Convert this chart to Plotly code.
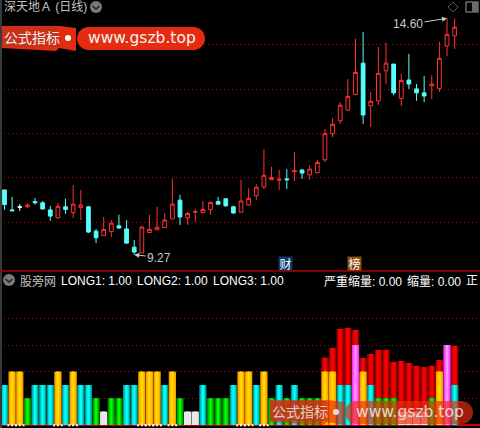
import plotly.graph_objects as go

# ---------- data ----------
opens = [10.73,10.28,10.35,10.35,10.47,10.44,10.28,10.10,10.35,10.22,10.33,10.35,9.80,9.70,9.79,9.92,9.85,9.44,9.31,9.77,
         9.83,9.88,10.08,10.50,10.10,10.23,10.22,10.29,10.47,10.53,10.35,10.23,10.39,10.60,10.80,10.96,10.95,10.98,11.14,11.18,
         11.07,11.12,11.41,12.00,12.29,12.53,12.88,13.59,12.63,12.74,13.42,13.57,12.79,13.21,13.01,12.92,13.08,13.02,13.98,14.21]
highs = [10.73,10.57,10.41,10.43,10.55,10.48,10.37,10.43,10.53,10.84,10.73,10.37,9.85,10.12,10.05,10.17,10.05,9.60,9.92,10.17,
         10.35,10.21,10.98,10.62,10.23,10.30,10.48,10.47,10.57,10.53,10.37,10.96,10.77,10.86,11.65,11.25,11.18,11.20,11.59,11.20,
         11.29,11.41,12.10,12.35,12.71,13.23,14.14,14.29,12.94,13.96,14.05,13.57,13.35,13.80,13.12,13.30,13.32,14.07,14.60,14.60]
lows = [10.28,10.26,10.26,10.32,10.40,10.29,10.03,10.08,10.19,10.10,10.05,9.76,9.53,9.69,9.67,9.86,9.53,9.27,9.31,9.76,
        9.83,9.87,10.07,9.94,9.94,10.01,10.21,10.17,10.39,10.36,10.19,10.23,10.37,10.50,10.75,10.96,10.73,10.75,10.93,10.98,
        10.96,11.11,11.36,11.92,12.22,12.51,12.87,12.22,12.15,12.65,13.12,12.87,12.62,13.01,12.74,12.71,12.78,12.94,13.75,13.91]
closes = [10.40,10.26,10.34,10.39,10.44,10.30,10.14,10.36,10.29,10.41,10.39,9.78,9.65,9.84,9.98,9.87,9.53,9.33,9.89,9.84,
          9.89,10.05,10.41,10.12,10.20,10.24,10.29,10.45,10.41,10.37,10.21,10.48,10.54,10.79,11.06,11.01,10.97,10.96,11.17,11.11,
          11.20,11.35,12.00,12.21,12.64,12.84,13.38,12.42,12.73,13.36,13.59,12.92,13.20,13.12,12.92,12.85,13.12,13.70,14.24,14.40]
doji_days = [2]
price_grid = [10, 11, 12, 13, 14]
low_price, high_price = 9.27, 14.60

vol_class = ["cyan","orange","orange","green","cyan","cyan","cyan","orange","cyan","orange",
             "cyan","cyan","green","white","green","green","cyan","cyan","orange","orange",
             "orange","cyan","orange","green","white","white","cyan","green","green","green",
             "cyan","orange","orange","cyan","orange","green","cyan","green","cyan","green",
             "green","green","orange","orange","cyan","cyan","magenta","orange","cyan","green",
             "green","green","white","white","white","white","green","orange","magenta","cyan"]
class_level = {"white": 1, "green": 2, "cyan": 3, "orange": 4, "magenta": 6}
red_total = {42: 5.05, 43: 5.78, 44: 7.20, 45: 7.28, 46: 7.13, 47: 5.03, 48: 5.33, 49: 5.63, 50: 5.63,
             51: 4.73, 52: 4.80, 53: 4.65, 54: 4.43, 55: 4.35, 56: 4.43, 57: 4.88, 59: 5.93}
vol_grid = [2, 4, 6, 8]

header_gray = [("深天地Ａ (日线)", 3, 7), ("股旁网", 19, 281)]
header_white = [("LONG1: 1.00", 60, 281), ("LONG2: 1.00", 136, 281), ("LONG3: 1.00", 212, 281),
                ("严重缩量: 0.00", 323, 281), ("缩量: 0.00", 406, 281), ("正", 465, 281)]

# ---------- helpers ----------
W, H = 480, 428
def px(x): return x / W
def py(y): return 1 - y / H
def poly(pts):
    return "M " + " L ".join(f"{px(x):.5f} {py(y):.5f}" for x, y in pts) + " Z"
def pill(x0, y0, x1, y1):
    r = (y1 - y0) / 2; k = r * 0.45
    p = lambda x, y: f"{px(x):.5f} {py(y):.5f}"
    return (f"M {p(x0+r,y0)} L {p(x1-r,y0)} C {p(x1-k,y0)} {p(x1,y0+k)} {p(x1,y0+r)} "
            f"C {p(x1,y1-k)} {p(x1-k,y1)} {p(x1-r,y1)} L {p(x0+r,y1)} "
            f"C {p(x0+k,y1)} {p(x0,y1-k)} {p(x0,y0+r)} C {p(x0,y0+k)} {p(x0+k,y0)} {p(x0+r,y0)} Z")

fig = go.Figure()
days = list(range(len(opens)))
normal = [d for d in days if d not in doji_days]
RED, CYAN = "#ff3232", "#54ffff"
pick = lambda arr, idx: [arr[i] for i in idx]
fig.add_trace(go.Candlestick(
    x=normal, open=pick(opens, normal), high=pick(highs, normal), low=pick(lows, normal), close=pick(closes, normal),
    increasing=dict(line=dict(color=RED, width=1), fillcolor="#000000"),
    decreasing=dict(line=dict(color=CYAN, width=1), fillcolor=CYAN),
    whiskerwidth=0, showlegend=False, xaxis="x", yaxis="y"))
fig.add_trace(go.Candlestick(
    x=doji_days, open=pick(opens, doji_days), high=pick(highs, doji_days), low=pick(lows, doji_days), close=pick(closes, doji_days),
    increasing=dict(line=dict(color="#ffffff", width=1), fillcolor="#ffffff"),
    decreasing=dict(line=dict(color="#ffffff", width=1), fillcolor="#ffffff"),
    whiskerwidth=0, showlegend=False, xaxis="x", yaxis="y"))

shades = {
    "red":     ("#a00000", "#dd0000", "#ff0000"),
    "cyan":    ("#009a88", "#00dcdc", "#00ffff"),
    "orange":  ("#ff9c00", "#ffc000", "#ffdc00"),
    "green":   ("#008c00", "#00c800", "#00ff00"),
    "white":   ("#e8e8e8", "#e8e8e8", "#e8e8e8"),
    "magenta": ("#ff30ff", "#ff60ff", "#ff90ff"),
}
widths = (0.95, 0.6, 0.28)
def add_bars(xs, ys, name):
    for w, col in zip(widths, shades[name]):
        fig.add_trace(go.Bar(x=xs, y=ys, width=w, marker=dict(color=col, line=dict(width=0)),
                             showlegend=False, xaxis="x2", yaxis="y2"))
add_bars(list(red_total), list(red_total.values()), "red")
for name, level in class_level.items():
    xs = [d for d in days if vol_class[d] == name]
    add_bars(xs, [level] * len(xs), name)
orange_days = [d for d in days if vol_class[d] == "orange" and d < 40]
speck_x = [d + o for d in orange_days for o in (-0.5, 0, 0.5)]
fig.add_trace(go.Scatter(x=speck_x, y=[-0.02] * len(speck_x), mode="markers",
                         marker=dict(symbol="square", size=2, color="#ffffff"),
                         showlegend=False, xaxis="x2", yaxis="y2"))

GRID = "#b00000"
common_x = dict(range=[-0.59, 62.32], visible=False, fixedrange=True)
fig.update_layout(
    width=W, height=H, margin=dict(l=0, r=0, t=0, b=0),
    paper_bgcolor="#000000", plot_bgcolor="#000000",
    barmode="overlay", boxgap=0.3, showlegend=False, hovermode=False,
    xaxis=dict(common_x, domain=[0, 1], anchor="y", rangeslider=dict(visible=False)),
    xaxis2=dict(common_x, domain=[0, 1], anchor="y2"),
    yaxis=dict(domain=[1 - 270 / H, 1], anchor="x", range=[8.924, 15.015], tickmode="array", tickvals=price_grid,
               showticklabels=False, ticks="", showgrid=True, gridcolor=GRID, griddash="1px,3px", gridwidth=1,
               zeroline=False, showline=False),
    yaxis2=dict(domain=[0, 1 - 272 / H], anchor="x2", range=[-0.225, 11.475], tickmode="array", tickvals=vol_grid,
                showticklabels=False, ticks="", showgrid=True, gridcolor=GRID, griddash="1px,3px", gridwidth=1,
                zeroline=True, zerolinecolor="#c80000", zerolinewidth=2, showline=False),
)

shapes = []
def sh(**k):
    k.setdefault("xref", "paper"); k.setdefault("yref", "paper"); shapes.append(k)
def line(x0, y0, x1, y1, color, width=1):
    sh(type="line", x0=px(x0), y0=py(y0), x1=px(x1), y1=py(y1), line=dict(color=color, width=width))
def circle(cx, cy, r, fill, lw=0):
    sh(type="circle", x0=px(cx-r), x1=px(cx+r), y0=py(cy-r), y1=py(cy+r), fillcolor=fill, line=dict(width=lw, color=fill))
def path(d, fill, opacity=1, lcol=None):
    sh(type="path", path=d, fillcolor=fill, opacity=opacity, line=dict(width=1 if lcol else 0, color=lcol or fill))

# frame
line(1, 0, 1, H, "#3a3a3a", 2)
line(0, 271, W, 271, "#b00000", 1.5)
# chevron buttons
for cx, cy in [(96, 7), (9, 280)]:
    circle(cx, cy, 6, "#7a7a7a")
    sh(type="path", path=f"M {px(cx-3.5)} {py(cy-1)} L {px(cx)} {py(cy+2)} L {px(cx+3.5)} {py(cy-1)}",
       line=dict(color="#222222", width=1.5))
# top-right icons
path(poly([(453, 2), (458, 7), (453, 12), (448, 7)]), "rgba(0,0,0,0)", lcol="#5a5a5a")
sh(type="rect", x0=px(466), x1=px(478), y0=py(2), y1=py(12), line=dict(color="#6a6a6a", width=1.5), fillcolor="#000000")
sh(type="rect", x0=px(472), x1=px(478), y0=py(2), y1=py(12), line=dict(width=0), fillcolor="#6a6a6a")
# watermarks
def watermark(dx, dy, op):
    path(poly([(2+dx, 26+dy), (59+dx, 26+dy), (76+dx, 28+dy), (76+dx, 51+dy), (59+dx, 48+dy), (56+dx, 51+dy), (2+dx, 48+dy)]), "#e02c12", op)
    path(poly([(2+dx, 27+dy), (59+dx, 27+dy), (59+dx, 47+dy), (2+dx, 47+dy)]), "#c83018", op)
    path(pill(77+dx, 27+dy, 205+dx, 50+dy), "#e62c10", op)
    sh(type="circle", x0=px(65+dx), x1=px(71+dx), y0=py(35+dy), y1=py(41+dy), fillcolor="#ffffff",
       opacity=max(op, 0.8), line=dict(width=0))
watermark(0, 0, 1)
watermark(268, 374, 0.68)

ann = []
def text(s, x, y, color, size=12, family="Liberation Sans, Noto Sans CJK SC", op=1, anchor="left"):
    ann.append(dict(text=s, xref="paper", yref="paper", x=px(x), y=py(y), xanchor=anchor, yanchor="middle",
                    showarrow=False, opacity=op, font=dict(color=color, size=size, family=family), borderpad=0))
for s, x, y in header_gray:
    text(s, x, y, "#c0c0c0")
for s, x, y in header_white:
    text(s, x, y, "#ffffff")
for dx, dy, op in [(0, 0, 1), (268, 374, 0.8)]:
    text("公式指标", 3 + dx, 38 + dy, "#f0f0f0", 14, op=op)
    text("www.gszb.top", 87 + dx, 38 + dy, "#f4f4f4", 15.5, "DejaVu Sans", op=op)
for s, x, bg in [("财", 285.5, "#0a3868"), ("榜", 361.5, "#8a4a10")]:
    ann.append(dict(text=s, xref="paper", yref="paper", x=px(x), y=py(263.5), showarrow=False, width=13, height=13,
                    bgcolor=bg, borderpad=0, font=dict(color="#ffffff", size=12, family="Noto Sans CJK SC")))
arrow = dict(showarrow=True, arrowhead=2, arrowsize=1, arrowwidth=1, arrowcolor="#c8c8c8",
             font=dict(color="#c8c8c8", size=12, family="Liberation Sans"), xref="x", yref="y")
ann.append(dict(arrow, text=f"{high_price:.2f}", x=highs.index(high_price), y=high_price, ax=-39, ay=6))
ann.append(dict(arrow, text=f"{low_price:.2f}", x=lows.index(low_price), y=low_price, ax=25, ay=3))

fig.update_layout(shapes=shapes, annotations=ann)
fig.write_html("out.html", config=dict(displayModeBar=False),
               post_script="document.body.style.margin='0';document.body.style.background='#000';")
